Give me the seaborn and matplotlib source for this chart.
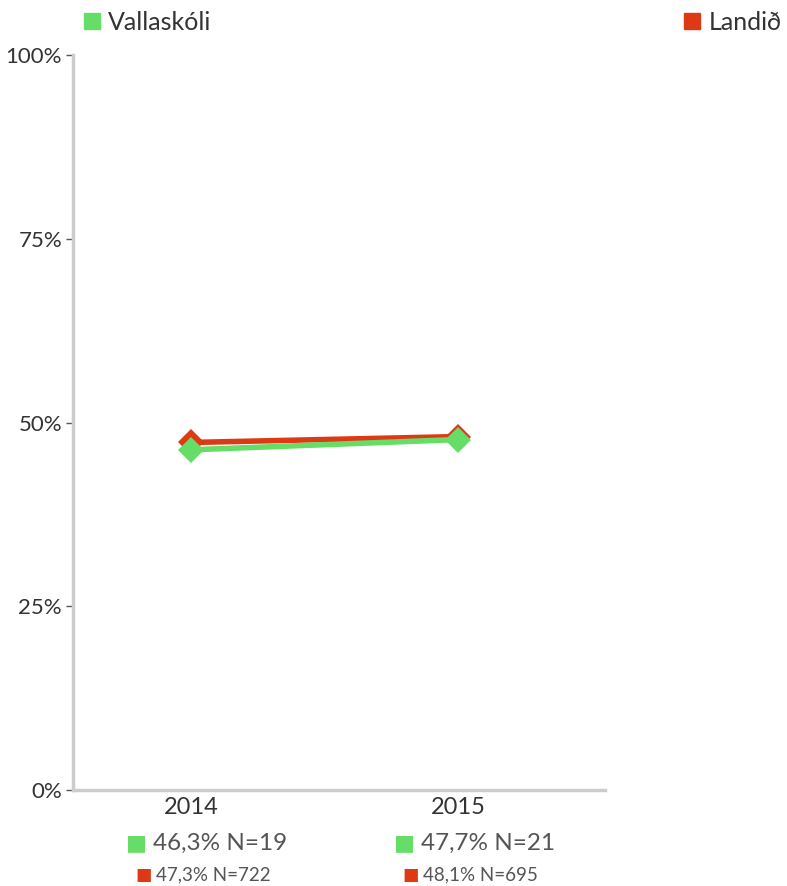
import pandas as pd
import matplotlib.pyplot as plt
import seaborn as sns
from matplotlib.lines import Line2D

# --- data ---
years = ['2014', '2015']
school_name = 'Vallaskóli'
national_name = 'Landið'
school_pct = [46.3, 47.7]
national_pct = [47.3, 48.1]
school_n = [19, 21]
national_n = [722, 695]
y_ticks = [0, 25, 50, 75, 100]
y_tick_labels = ['0%', '25%', '50%', '75%', '100%']

GREEN = '#66dd66'
RED = '#dd3914'
TEXT = '#333333'

df = pd.DataFrame({
    'Ár': years * 2,
    'Hlutfall': national_pct + school_pct,
    'Hópur': [national_name] * 2 + [school_name] * 2,
})

sns.set_theme(style='white')
plt.rcParams['font.family'] = ['Lato', 'DejaVu Sans']

fig = plt.figure(figsize=(7.87, 8.86), dpi=100)
ax = fig.add_axes([0.093, 0.108, 0.676, 0.830])

sns.lineplot(
    data=df, x='Ár', y='Hlutfall', hue='Hópur', sort=False,
    hue_order=[national_name, school_name],
    palette={national_name: RED, school_name: GREEN},
    marker='D', markersize=13, markeredgewidth=0,
    linewidth=4, legend=False, ax=ax,
)

ax.set_xlim(-0.44, 1.55)
ax.set_ylim(0, 100)
ax.set_yticks(y_ticks)
ax.set_yticklabels(y_tick_labels)
ax.set_xlabel('')
ax.set_ylabel('')

for side in ['top', 'right']:
    ax.spines[side].set_visible(False)
for side in ['left', 'bottom']:
    ax.spines[side].set_color('#cccccc')
    ax.spines[side].set_linewidth(2.5)

ax.tick_params(axis='y', length=5, width=1, color='#555555', labelsize=16,
               labelcolor=TEXT, pad=3, left=True)
ax.tick_params(axis='x', length=0, labelsize=17, labelcolor=TEXT, pad=5)

# value labels under each year
for i, yr in enumerate(years):
    ax.annotate('■', xy=(i, -0.072), xycoords=('data', 'axes fraction'),
                xytext=(-39, 0), textcoords='offset points',
                ha='center', va='center', fontsize=16, color=GREEN,
                family=['DejaVu Sans'])
    ax.annotate(f'{school_pct[i]:.1f}% N={school_n[i]}'.replace('.', ','),
                xy=(i, -0.072), xycoords=('data', 'axes fraction'),
                xytext=(-27, 0), textcoords='offset points',
                ha='left', va='center', fontsize=17.5, color='#555555')
    ax.annotate('■', xy=(i, -0.1156), xycoords=('data', 'axes fraction'),
                xytext=(-34, 0), textcoords='offset points',
                ha='center', va='center', fontsize=12.5, color=RED,
                family=['DejaVu Sans'])
    ax.annotate(f'{national_pct[i]:.1f}% N={national_n[i]}'.replace('.', ','),
                xy=(i, -0.1156), xycoords=('data', 'axes fraction'),
                xytext=(-25, 0), textcoords='offset points',
                ha='left', va='center', fontsize=13.5, color='#555555')

# legends at the top corners
h_school = [Line2D([], [], marker='s', color=GREEN, linestyle='none', markersize=11.5)]
h_nat = [Line2D([], [], marker='s', color=RED, linestyle='none', markersize=11.5)]
fig.legend(h_school, [school_name], loc='upper left', bbox_to_anchor=(0.075, 1.013),
           frameon=False, fontsize=18, handletextpad=0.25, labelcolor=TEXT,
           handlelength=0.8)
fig.legend(h_nat, [national_name], loc='upper right', bbox_to_anchor=(1.022, 1.013),
           frameon=False, fontsize=18, handletextpad=0.25, labelcolor=TEXT,
           handlelength=0.8)

fig.savefig('out.png', dpi=100)
